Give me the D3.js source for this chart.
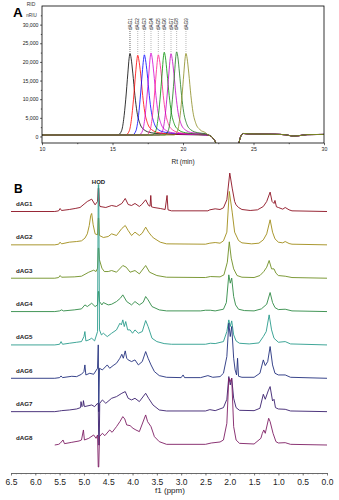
<!DOCTYPE html>
<html>
<head>
<meta charset="utf-8">
<script src="https://cdn.jsdelivr.net/npm/d3@7"></script>
<style>
  body { margin: 0; background: #fff; }
  svg { display: block; font-family: Arial, "Liberation Sans", sans-serif; }
</style>
</head>
<body>
<svg id="fig" width="339" height="500"></svg>
<script>
// ---------- A: HPGPC traces (RID response vs retention time) ----------
const ridNames = ['dAG1', 'dAG2', 'dAG3', 'dAG4', 'dAG5', 'dAG6', 'dAG7', 'dAG8', 'dAG9'];
const ridColors = ['#000000', '#ff0000', '#0000ff', '#d000d0', '#ff1a8c', '#009000', '#c000c0', '#1a7a1a', '#8a8a20'];

// [time (min), response (nRIU)]
const rid1 = [[10,400],[15.39,400],[15.64,1500],[15.79,4500],[15.94,10000],[16.09,17000],[16.18,21000],[16.24,22300],[16.32,21000],[16.44,17000],[16.59,11000],[16.74,6500],[16.94,3500],[17.24,1800],[17.74,1000],[18.44,700],[20.0,500],[21.6,400]];
const rid2 = [[10,400],[15.94,400],[16.19,1500],[16.34,4500],[16.49,10000],[16.64,17000],[16.73,20500],[16.79,21800],[16.87,20500],[16.99,17000],[17.14,11000],[17.29,6500],[17.49,3500],[17.79,1800],[18.29,1000],[18.99,700],[21.6,450]];
const rid3 = [[10,400],[16.41,400],[16.66,1500],[16.81,4500],[16.96,10000],[17.11,17000],[17.2,20600],[17.26,21900],[17.34,20600],[17.46,17000],[17.61,11000],[17.76,6500],[17.96,3500],[18.26,1800],[18.76,1100],[19.46,800],[21.6,450]];
const rid4 = [[10,400],[16.88,400],[17.13,1500],[17.28,4500],[17.43,10000],[17.58,17000],[17.67,21100],[17.73,22400],[17.81,21100],[17.93,17000],[18.08,11000],[18.23,6500],[18.43,3500],[18.73,1800],[19.23,1000],[19.93,700],[21.6,450]];
const rid5 = [[10,400],[17.4,400],[17.65,1500],[17.8,4500],[17.95,10000],[18.1,17000],[18.19,20600],[18.25,21900],[18.33,20600],[18.45,17000],[18.6,11000],[18.75,6500],[18.95,3500],[19.25,1800],[19.75,1000],[20.45,700],[21.6,500]];
const rid6 = [[10,400],[17.82,400],[18.07,1500],[18.22,4500],[18.37,10000],[18.52,17000],[18.61,21300],[18.67,22600],[18.75,21300],[18.87,17000],[19.02,11000],[19.17,6500],[19.37,3500],[19.67,1800],[20.17,1000],[20.87,700],[21.6,550]];
const rid7 = [[10,400],[18.3,400],[18.55,1500],[18.7,4500],[18.85,10000],[19.0,17000],[19.09,20900],[19.15,22200],[19.23,20900],[19.35,17000],[19.5,11000],[19.65,6500],[19.85,3500],[20.15,1800],[20.65,1000],[21.6,650]];
const rid8 = [[10,400],[18.7,400],[18.95,1500],[19.1,4500],[19.25,10000],[19.4,17000],[19.49,21400],[19.55,22700],[19.63,21400],[19.75,17000],[19.9,11000],[20.05,6500],[20.25,3500],[20.55,1800],[21.05,1000],[21.6,750]];
const rid9 = [[10,400],[19.36,400],[19.61,1500],[19.76,4500],[19.91,10000],[20.06,17000],[20.15,21000],[20.21,22300],[20.29,21000],[20.41,17000],[20.56,11000],[20.71,6500],[20.91,3500],[21.21,1800],[21.6,1000]];
// salt / solvent region common to every run
const solventDip = [[21.8,350],[22.0,50],[22.15,-600],[22.3,-1500],[22.45,-4000],[22.7,-9000],[23.2,-11000],[23.7,-8000],[23.88,-3500],[24.0,-1200],[24.12,200],[24.3,800],[24.6,700],[25.5,650],[26.5,600],[27.3,450],[27.8,100],[28.2,200],[28.8,500],[30,550]];

const rtTicks = [10, 15, 20, 25, 30];
const ridTicks = [0, 5000, 10000, 15000, 20000, 25000, 30000];

// ---------- B: 1H NMR spectra ----------
const nmrNames = ['dAG1', 'dAG2', 'dAG3', 'dAG4', 'dAG5', 'dAG6', 'dAG7', 'dAG8'];
const nmrColors = ['#8c1020', '#a08c18', '#6e8f22', '#2f8a45', '#2a9c8c', '#23307e', '#3a1f6e', '#7e1e64'];

// [ppm, intensity (% of row spacing)]
const dAG1 = [[6.5,0],[5.6,0],[5.52,2],[5.49,9],[5.46,3],[5.3,6],[5.18,9],[5.08,12],[4.98,24],[4.93,30],[4.84,37],[4.77,20],[4.72,30],[4.705,70],[4.695,70],[4.68,20],[4.67,15],[4.55,12],[4.43,18],[4.33,15],[4.22,24],[4.15,39],[4.09,21],[4.02,18],[3.95,24],[3.86,15],[3.81,21],[3.73,35],[3.67,18],[3.64,16],[3.625,48],[3.61,14],[3.56,12],[3.43,9],[3.33,6],[3.29,48],[3.27,5],[3.2,2],[2.45,2],[2.41,5],[2.30,8],[2.20,6],[2.13,11],[2.06,35],[2.0,115],[1.95,70],[1.90,30],[1.87,20],[1.82,12],[1.75,6],[1.58,3],[1.43,5],[1.31,15],[1.24,30],[1.17,58],[1.13,30],[1.09,24],[1.07,33],[1.04,14],[1.0,12],[0.91,7],[0.86,12],[0.78,5],[0.72,2],[0,0]];
const dAG2 = [[6.5,0],[5.6,0],[5.52,2],[5.49,8],[5.46,3],[5.3,8],[5.15,10],[5.05,12],[4.98,20],[4.93,33],[4.89,58],[4.86,88],[4.84,94],[4.81,60],[4.77,33],[4.72,30],[4.705,80],[4.695,80],[4.68,28],[4.6,22],[4.5,25],[4.43,33],[4.33,28],[4.22,49],[4.15,58],[4.09,43],[4.02,28],[3.95,38],[3.86,28],[3.80,35],[3.73,53],[3.67,38],[3.6,25],[3.56,20],[3.43,8],[3.3,3],[2.5,2],[2.41,5],[2.3,7],[2.2,5],[2.13,12],[2.06,38],[2.01,160],[1.95,98],[1.90,38],[1.82,13],[1.75,6],[1.55,3],[1.4,5],[1.31,15],[1.24,33],[1.17,75],[1.12,38],[1.07,18],[1.0,8],[0.91,6],[0.86,10],[0.78,4],[0.72,2],[0,0]];
const dAG3 = [[6.5,0],[5.6,0],[5.52,2],[5.49,8],[5.46,3],[5.2,4],[5.05,6],[4.9,18],[4.8,24],[4.75,20],[4.72,30],[4.705,90],[4.695,90],[4.68,55],[4.63,30],[4.58,20],[4.5,20],[4.43,23],[4.33,18],[4.2,38],[4.13,33],[4.05,18],[3.95,23],[3.86,13],[3.73,38],[3.65,18],[3.5,8],[3.3,3],[2.5,2],[2.4,5],[2.2,4],[2.12,10],[2.05,48],[2.01,109],[1.97,60],[1.92,28],[1.85,8],[1.75,3],[1.5,2],[1.38,8],[1.3,20],[1.24,33],[1.19,53],[1.14,28],[1.09,28],[1.05,15],[1.0,8],[0.86,6],[0.72,2],[0,0]];
const dAG4 = [[6.5,0],[5.6,0],[5.5,2],[5.46,5],[5.42,2],[5.2,5],[5.05,8],[4.98,20],[4.93,15],[4.84,25],[4.77,15],[4.72,20],[4.705,60],[4.695,60],[4.68,30],[4.63,20],[4.6,27],[4.5,20],[4.43,22],[4.33,30],[4.25,40],[4.2,50],[4.12,30],[4.02,20],[3.95,30],[3.86,20],[3.78,28],[3.73,45],[3.68,35],[3.6,15],[3.45,5],[3.3,2],[2.6,2],[2.5,4],[2.4,4],[2.3,2],[2.13,7],[2.07,27],[2.02,110],[1.99,85],[1.96,100],[1.92,45],[1.88,20],[1.82,7],[1.7,3],[1.5,2],[1.35,8],[1.24,22],[1.17,57],[1.12,27],[1.07,12],[1.0,6],[0.86,7],[0.72,2],[0,0]];
const dAG5 = [[6.5,0],[5.6,0],[5.5,2],[5.47,10],[5.44,2],[5.3,5],[5.15,8],[5.05,10],[5.0,25],[4.98,40],[4.96,12],[4.9,15],[4.84,20],[4.78,12],[4.72,40],[4.705,480],[4.695,480],[4.68,45],[4.64,30],[4.6,35],[4.52,25],[4.43,35],[4.33,45],[4.26,65],[4.23,60],[4.2,75],[4.17,55],[4.14,70],[4.1,45],[4.05,45],[4.0,35],[3.95,45],[3.88,35],[3.8,40],[3.73,73],[3.68,55],[3.6,20],[3.5,10],[3.35,4],[3.2,2],[2.5,2],[2.4,5],[2.3,4],[2.13,10],[2.06,40],[2.02,75],[1.99,55],[1.96,72],[1.92,30],[1.87,12],[1.8,5],[1.6,3],[1.4,6],[1.31,25],[1.25,40],[1.19,90],[1.14,45],[1.09,20],[1.0,8],[0.86,10],[0.75,3],[0,0]];
const dAG6 = [[6.5,0],[5.6,0],[5.5,2],[5.47,7],[5.44,2],[5.25,6],[5.15,5],[5.05,12],[5.0,20],[4.98,40],[4.96,10],[4.88,15],[4.8,12],[4.72,30],[4.705,100],[4.695,-100],[4.68,30],[4.62,25],[4.52,40],[4.47,30],[4.4,38],[4.33,45],[4.26,60],[4.22,72],[4.19,60],[4.15,82],[4.12,60],[4.09,55],[4.02,50],[3.95,55],[3.88,40],[3.8,50],[3.73,80],[3.68,60],[3.62,40],[3.55,20],[3.45,8],[3.3,3],[3.0,2],[2.96,10],[2.93,2],[2.6,2],[2.45,8],[2.35,3],[2.2,5],[2.13,15],[2.06,65],[2.02,165],[1.99,125],[1.96,155],[1.92,60],[1.89,25],[1.86,10],[1.84,60],[1.82,6],[1.75,3],[1.5,3],[1.38,15],[1.31,55],[1.27,38],[1.22,50],[1.17,95],[1.12,40],[1.07,15],[1.0,10],[0.86,10],[0.75,3],[0,0]];
const dAG7 = [[6.5,0],[5.6,0],[5.5,2],[5.46,3],[5.3,5],[5.15,8],[5.07,12],[5.06,30],[5.04,15],[5.02,18],[5.01,33],[4.99,15],[4.84,20],[4.78,15],[4.72,25],[4.705,20],[4.695,-100],[4.685,-100],[4.675,25],[4.62,35],[4.55,25],[4.43,40],[4.33,45],[4.22,55],[4.15,60],[4.09,40],[4.02,35],[3.95,40],[3.86,30],[3.73,55],[3.67,40],[3.58,20],[3.45,5],[3.3,2],[2.5,2],[2.41,6],[2.3,3],[2.13,12],[2.06,37],[2.02,105],[1.99,80],[1.96,100],[1.92,40],[1.87,12],[1.8,4],[1.5,3],[1.38,10],[1.31,52],[1.27,37],[1.21,62],[1.17,75],[1.12,32],[1.09,37],[1.06,12],[1.0,8],[0.86,7],[0.75,2],[0,0]];
const dAG8 = [[6.5,0],[5.6,0],[5.52,2],[5.49,5],[5.43,15],[5.4,4],[5.25,8],[5.1,12],[5.05,15],[5.01,45],[4.99,15],[4.9,20],[4.8,30],[4.75,20],[4.72,30],[4.705,-66],[4.695,-66],[4.68,25],[4.62,35],[4.57,28],[4.47,45],[4.42,38],[4.33,55],[4.26,70],[4.2,85],[4.16,78],[4.12,60],[4.05,58],[3.99,50],[3.93,45],[3.86,40],[3.73,90],[3.69,70],[3.62,55],[3.55,25],[3.45,10],[3.3,2],[2.5,2],[2.38,6],[2.2,9],[2.13,15],[2.06,65],[2.02,200],[1.99,190],[1.96,200],[1.92,55],[1.87,15],[1.8,5],[1.5,3],[1.36,20],[1.33,35],[1.3,45],[1.27,35],[1.2,80],[1.17,70],[1.11,35],[1.05,10],[1.0,6],[0.86,7],[0.75,2],[0,0]];

const ppmTicks = [6.5, 6.0, 5.5, 5.0, 4.5, 4.0, 3.5, 3.0, 2.5, 2.0, 1.5, 1.0, 0.5, 0.0];

const svg = d3.select('#fig');

// ================= panel A =================
const pa = { left: 42, right: 324, top: 6, bottom: 143 };
const xA = d3.scaleLinear().domain([10, 30]).range([pa.left, pa.right]);
const yA = d3.scaleLinear().domain([-1750, 35000]).range([pa.bottom, pa.top]);

svg.append('clipPath').attr('id', 'clipA')
  .append('rect')
  .attr('x', pa.left).attr('y', pa.top)
  .attr('width', pa.right - pa.left).attr('height', pa.bottom - pa.top);

const ridLine = d3.line()
  .x(d => xA(d[0]))
  .y(d => yA(d[1]))
  .curve(d3.curveMonotoneX);

const ridTraces = [rid1, rid2, rid3, rid4, rid5, rid6, rid7, rid8, rid9];
const traceG = svg.append('g').attr('clip-path', 'url(#clipA)');
ridTraces.forEach((tr, i) => {
  traceG.append('path')
    .attr('d', ridLine(tr.concat(solventDip)))
    .attr('fill', 'none')
    .attr('stroke', ridColors[i])
    .attr('stroke-width', 0.8);
});

// peak labels with dotted leaders
ridTraces.forEach((tr, i) => {
  const apex = d3.greatest(tr, d => d[1]);
  const px = xA(apex[0]);
  svg.append('line')
    .attr('x1', px).attr('x2', px)
    .attr('y1', 31).attr('y2', yA(apex[1]) - 1.5)
    .attr('stroke', i === 0 ? '#000' : '#8a8a8a')
    .attr('stroke-width', 0.6)
    .attr('stroke-dasharray', '1 1');
  svg.append('text')
    .attr('transform', `translate(${px + 1.6},30) rotate(-90)`)
    .attr('font-size', 4.6)
    .attr('fill', '#111')
    .text(ridNames[i]);
});

// frame + axes
svg.append('rect')
  .attr('x', pa.left).attr('y', pa.top)
  .attr('width', pa.right - pa.left).attr('height', pa.bottom - pa.top)
  .attr('fill', 'none').attr('stroke', '#000').attr('stroke-width', 0.8);

const yAxisA = svg.append('g')
  .attr('transform', `translate(${pa.left},0)`)
  .call(d3.axisLeft(yA).tickValues(ridTicks).tickFormat(d3.format(',')).tickSize(2).tickPadding(1.5));
svg.append('g')
  .attr('transform', `translate(${pa.left},0)`)
  .call(d3.axisLeft(yA).tickValues(d3.range(2500, 35000, 5000)).tickFormat('').tickSize(1.2))
  .call(g => g.select('.domain').remove());

const xAxisA = svg.append('g')
  .attr('transform', `translate(0,${pa.bottom})`)
  .call(d3.axisBottom(xA).tickValues(rtTicks).tickSize(2.2).tickPadding(2));
svg.append('g')
  .attr('transform', `translate(0,${pa.bottom})`)
  .call(d3.axisBottom(xA).tickValues(d3.range(12.5, 30, 5)).tickFormat('').tickSize(1.2))
  .call(g => g.select('.domain').remove());

[yAxisA, xAxisA].forEach(g => {
  g.select('.domain').remove();
  g.selectAll('text').attr('font-size', 5.2).attr('fill', '#222').attr('font-family', 'Arial, "Liberation Sans", sans-serif');
});
svg.selectAll('.tick line').attr('stroke-width', 0.6);

svg.append('text').attr('x', 183).attr('y', 163.5)
  .attr('text-anchor', 'middle').attr('font-size', 6.5).attr('fill', '#222')
  .text('Rt (min)');
svg.append('text').attr('x', 31).attr('y', 5.5)
  .attr('text-anchor', 'middle').attr('font-size', 5).attr('fill', '#333')
  .text('RID');
svg.append('text').attr('x', 31.5).attr('y', 16.5)
  .attr('text-anchor', 'middle').attr('font-size', 4.6).attr('fill', '#333')
  .text('nRIU');
svg.append('text').attr('x', 13).attr('y', 17)
  .attr('font-size', 13.5).attr('font-weight', 'bold')
  .text('A');

// ================= panel B =================
const xB = d3.scaleLinear().domain([6.5, 0]).range([11, 327]);
const rowY = d3.scalePoint().domain(nmrNames).range([211.5, 445]);
const amp = d3.scaleLinear().domain([0, 100]).range([0, 33.4]);
const fadeEdge = 5.75; // dAG8 is shown faint below this shift

const spectra = [dAG1, dAG2, dAG3, dAG4, dAG5, dAG6, dAG7, dAG8];
spectra.forEach((sp, i) => {
  const base = rowY(nmrNames[i]);
  const line = d3.line()
    .x(d => xB(d[0]))
    .y(d => base - amp(d[1]));
  const last = i === spectra.length - 1;
  if (last) {
    svg.append('path')
      .attr('d', line(sp.filter(d => d[0] >= fadeEdge)))
      .attr('fill', 'none').attr('stroke', '#cfb3c4').attr('stroke-width', 0.9);
  }
  svg.append('path')
    .attr('d', line(last ? sp.filter(d => d[0] <= fadeEdge + 0.2) : sp))
    .attr('fill', 'none')
    .attr('stroke', nmrColors[i])
    .attr('stroke-width', 0.9)
    .attr('stroke-linejoin', 'round');

  svg.append('text')
    .attr('x', 16).attr('y', base - 5.5)
    .attr('font-size', 6.2).attr('font-weight', 'bold').attr('fill', '#222')
    .text(nmrNames[i]);
});

svg.append('text').attr('x', xB(4.7)).attr('y', 183.5)
  .attr('text-anchor', 'middle').attr('font-size', 6).attr('font-weight', 'bold').attr('fill', '#222')
  .text('HOD');
svg.append('text').attr('x', 14).attr('y', 192.5)
  .attr('font-size', 12).attr('font-weight', 'bold')
  .text('B');

const axisY = 473;
const xAxisB = svg.append('g')
  .attr('transform', `translate(0,${axisY})`)
  .call(d3.axisBottom(xB).tickValues(ppmTicks).tickFormat(d3.format('.1f')).tickSize(2.5).tickSizeOuter(0).tickPadding(3));
xAxisB.select('.domain').attr('stroke', '#444').attr('stroke-width', 0.8);
xAxisB.selectAll('.tick line').attr('stroke', '#444').attr('stroke-width', 0.7);
xAxisB.selectAll('text').attr('font-size', 8.5).attr('fill', '#222')
  .attr('font-family', 'Arial, "Liberation Sans", sans-serif');
svg.append('g')
  .attr('transform', `translate(0,${axisY})`)
  .call(d3.axisBottom(xB).tickValues(d3.range(0.1, 6.5, 0.1)).tickFormat('').tickSize(1.4))
  .call(g => g.select('.domain').remove())
  .call(g => g.selectAll('line').attr('stroke', '#666').attr('stroke-width', 0.5));

svg.append('text').attr('x', 170).attr('y', 493)
  .attr('text-anchor', 'middle').attr('font-size', 8).attr('fill', '#222')
  .text('f1 (ppm)');
</script>
</body>
</html>
